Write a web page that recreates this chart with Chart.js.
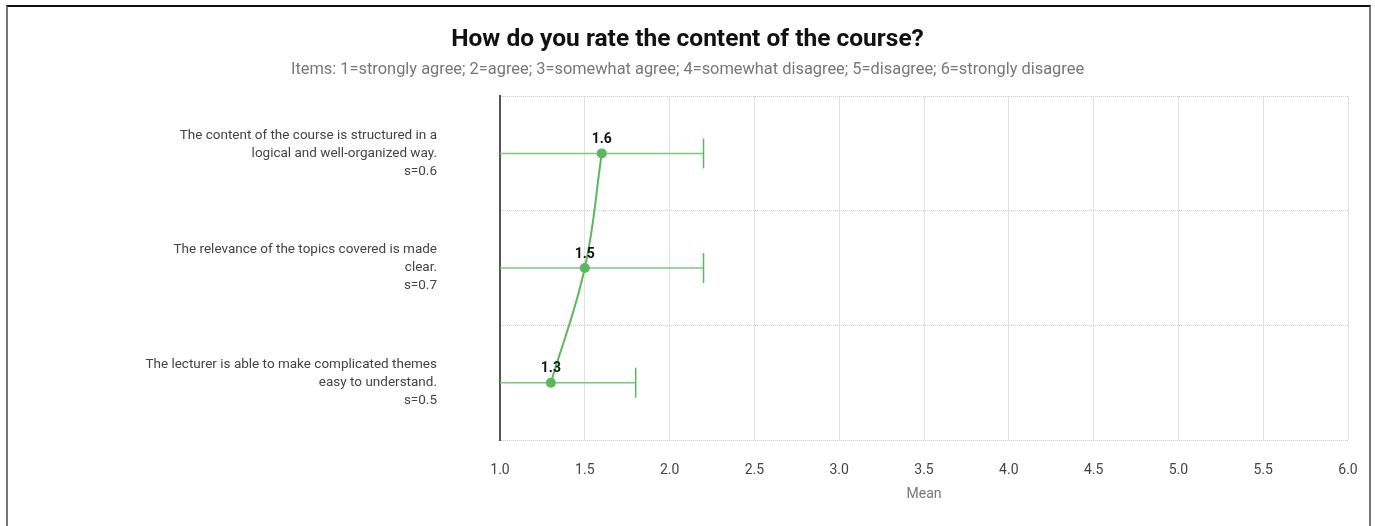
<!DOCTYPE html>
<html>
<head>
<meta charset="utf-8">
<script src="https://cdn.jsdelivr.net/npm/chart.js@4"></script>
<style>
  html, body { margin: 0; padding: 0; background: #fff; overflow: hidden; }
  #wrap { position: relative; width: 1375px; height: 526px; overflow: hidden; }
  #frame { position: absolute; left: 6px; top: 5px; width: 1361px; height: 530px;
           border-left: 2px solid #777; border-right: 2px solid #777; border-top: 2px solid #111; pointer-events: none; }
</style>
</head>
<body>
<div id="wrap">
  <canvas id="chart" width="1375" height="526"></canvas>
  <div id="frame"></div>
</div>
<script>
(function () {
  "use strict";

  const itemLines = [
    ["The content of the course is structured in a", "logical and well-organized way."],
    ["The relevance of the topics covered is made", "clear."],
    ["The lecturer is able to make complicated themes", "easy to understand."]
  ];
  const means = [1.6, 1.5, 1.3];
  const sds = [0.6, 0.7, 0.5];
  const xTicks = [1.0, 1.5, 2.0, 2.5, 3.0, 3.5, 4.0, 4.5, 5.0, 5.5, 6.0];

  const labels = itemLines.map((l, i) => l.concat(["s=" + sds[i].toFixed(1)]));

  const green = "#5cb85c";
  const errGreen = "#7dc87d";

  Chart.defaults.font.family = "Roboto, sans-serif";

  /* ---------- error bars drawn through the scales ---------- */
  const errorBars = {
    id: "errorBars",
    beforeDatasetsDraw(chart) {
      const ctx = chart.ctx, x = chart.scales.x, y = chart.scales.y, area = chart.chartArea;
      ctx.save();
      means.forEach((m, i) => {
        const yy = y.getPixelForValue(i);
        const lo = x.getPixelForValue(m - sds[i]);
        const hi = x.getPixelForValue(m + sds[i]);
        const l = Math.max(lo, area.left), r = Math.min(hi, area.right);
        ctx.strokeStyle = errGreen; ctx.lineWidth = 1.5;
        ctx.beginPath(); ctx.moveTo(l, yy); ctx.lineTo(r, yy); ctx.stroke();
        ctx.strokeStyle = green;
        [lo, hi].forEach(px => {
          if (px > area.left + 1 && px < area.right - 1) {
            ctx.beginPath(); ctx.moveTo(px, yy - 15); ctx.lineTo(px, yy + 15); ctx.stroke();
          }
        });
      });
      ctx.restore();
    }
  };

  /* ---------- value labels above points ---------- */
  const valueLabels = {
    id: "valueLabels",
    afterDatasetsDraw(chart) {
      const ctx = chart.ctx;
      const meta = chart.getDatasetMeta(0);
      ctx.save();
      ctx.font = "bold 14px Roboto, sans-serif";
      ctx.fillStyle = "#111";
      ctx.textAlign = "center";
      ctx.textBaseline = "middle";
      meta.data.forEach((pt, i) => ctx.fillText(means[i].toFixed(1), pt.x, pt.y - 14));
      ctx.restore();
    }
  };

  new Chart(document.getElementById("chart"), {
    type: "line",
    data: {
      labels: labels,
      datasets: [{
        data: means, borderColor: green, backgroundColor: green, borderWidth: 2,
        pointRadius: 5, pointHoverRadius: 5, pointBorderWidth: 0, tension: 0.4, fill: false
      }]
    },
    options: {
      indexAxis: "y",
      responsive: false,
      animation: false,
      layout: { padding: { left: 27, right: 27, top: 0, bottom: 21 } },
      plugins: {
        legend: { display: false },
        tooltip: { enabled: false },
        title: { display: true, text: "How do you rate the content of the course?", color: "#111",
          font: { size: 24.5, weight: "bold" }, padding: { top: 25.6, bottom: 5 } },
        subtitle: { display: true, text: "Items: 1=strongly agree; 2=agree; 3=somewhat agree; 4=somewhat disagree; 5=disagree; 6=strongly disagree",
          color: "#777", font: { size: 16.4 }, padding: { top: 0, bottom: 16.4 } }
      },
      scales: {
        x: {
          type: "linear", min: 1, max: 6,
          afterBuildTicks(scale) { scale.ticks = xTicks.map(v => ({ value: v })); },
          afterFit(scale) { scale.height = 65; scale.paddingLeft = 0; scale.paddingRight = 0; },
          ticks: { color: "#444", font: { size: 14 }, padding: 22, callback: v => v.toFixed(1) },
          grid: { color: "#e2e2e2", drawTicks: false },
          border: { display: false },
          title: { display: true, text: "Mean", color: "#777", font: { size: 14 }, padding: { top: 4, bottom: 2.5 } }
        },
        y: {
          offset: true,
          afterFit(scale) { scale.width = 473; scale.paddingTop = 0; scale.paddingBottom = 0; },
          ticks: { color: "#444", font: { size: 13.5, lineHeight: "18px" }, padding: 63, autoSkip: false },
          grid: { offset: true, color: "#cfcfcf", drawTicks: false },
          border: { display: true, color: "#555", width: 2, dash: [1, 1] }
        }
      }
    },
    plugins: [errorBars, valueLabels]
  });
})();
</script>
</body>
</html>
